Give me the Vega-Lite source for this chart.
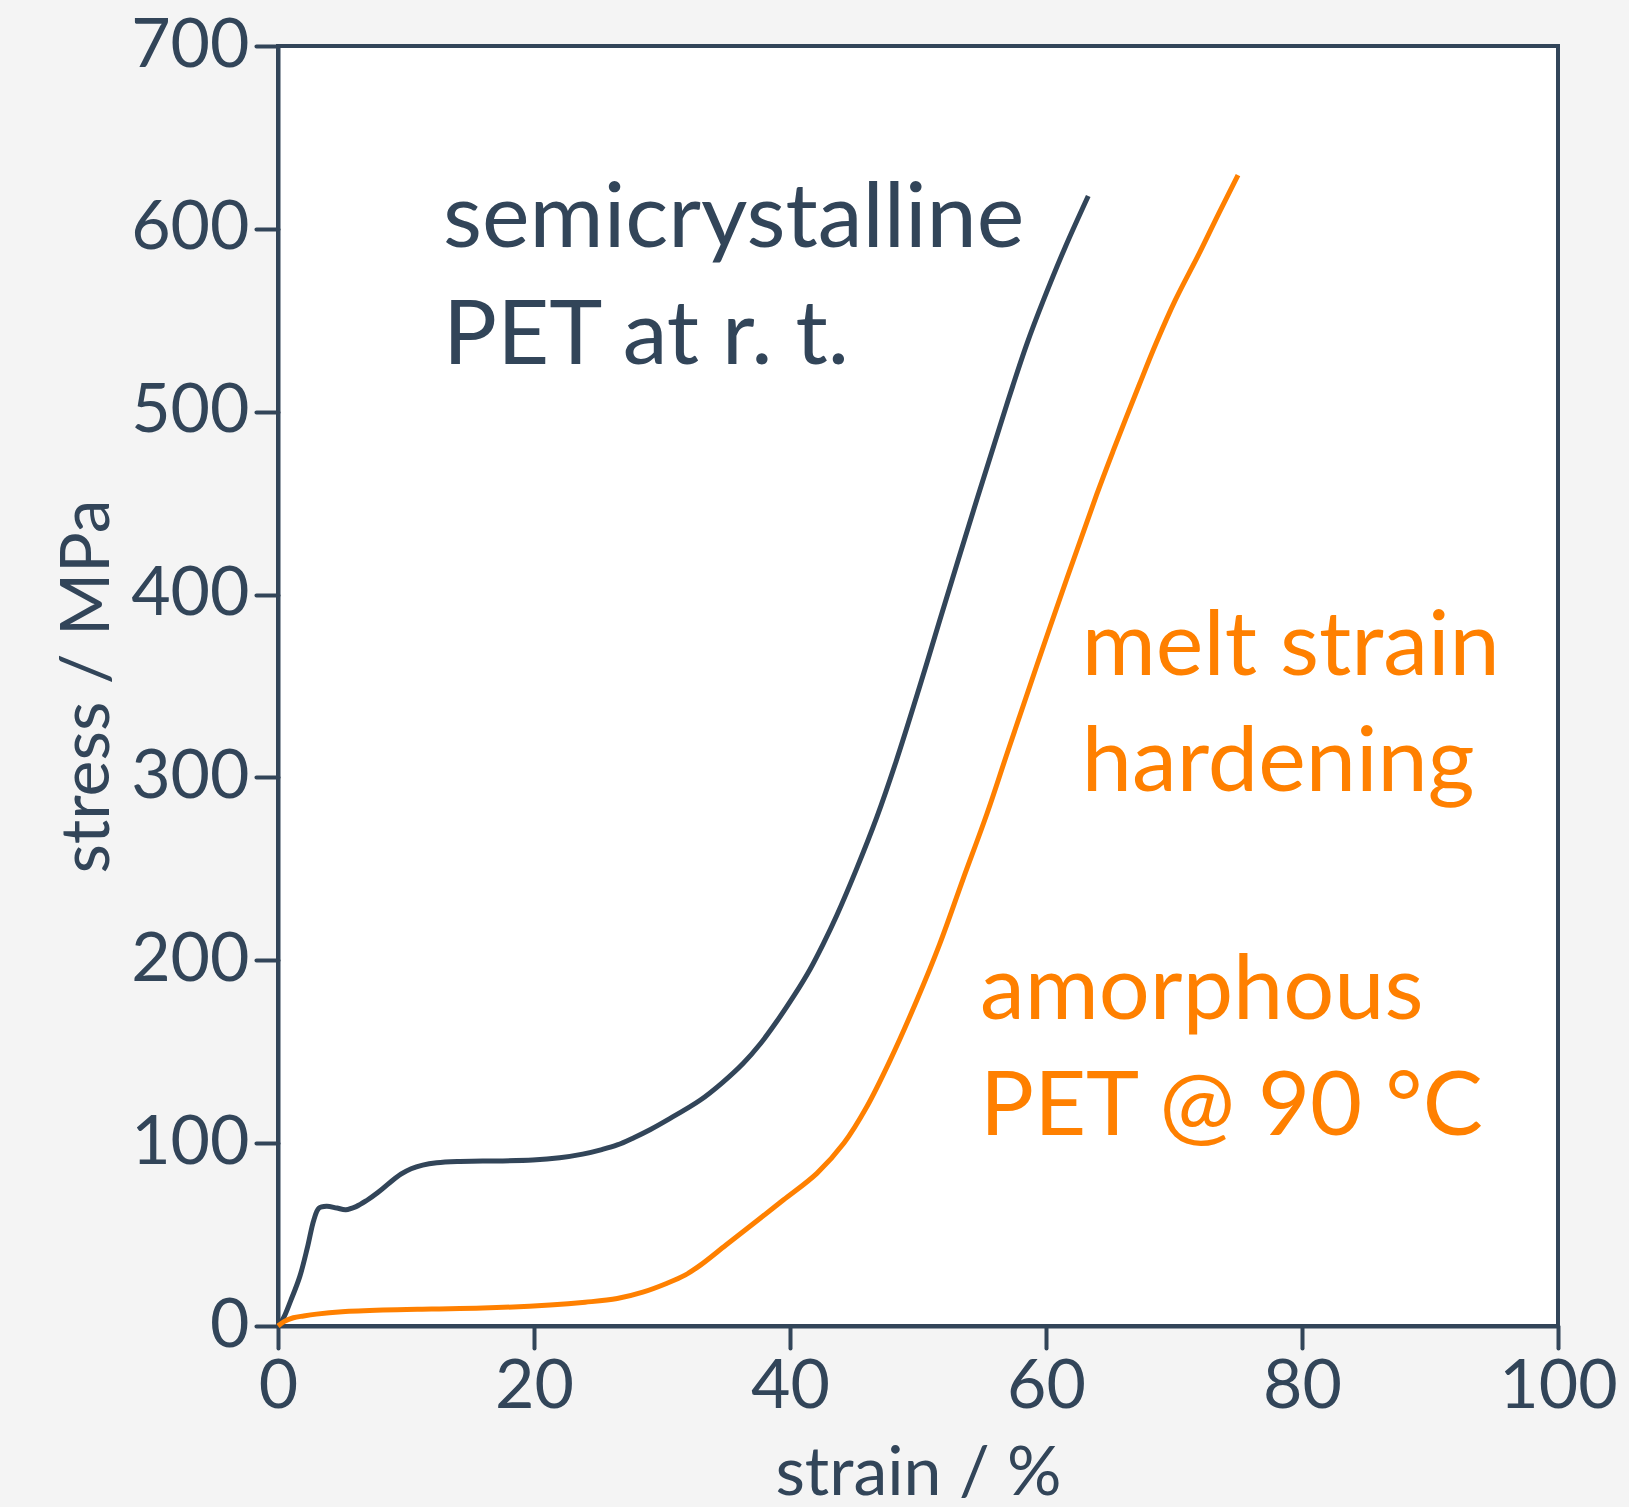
{
  "$schema": "https://vega.github.io/schema/vega-lite/v6.json",
  "autosize": {"type": "none"},
  "padding": {"left": 278, "top": 46, "right": 71, "bottom": 181},
  "width": 1280,
  "height": 1280,
  "background": "#f4f4f4",
  "config": {
    "view": {"fill": "white", "stroke": "#324559", "strokeWidth": 4},
    "axis": {
      "domainColor": "#324559", "domainWidth": 4,
      "tickColor": "#324559", "tickWidth": 4, "tickSize": 22, "tickCap": "round",
      "labelColor": "#324559", "titleColor": "#324559",
      "labelFont": "Lato", "titleFont": "Lato",
      "labelFontSize": 68, "titleFontSize": 68, "titleFontWeight": "normal",
      "labelFlush": false, "labelOverlap": false,
      "grid": false
    }
  },
  "datasets": {
    "curves": [
      {"strain": 0, "stress": 0, "series": "semicrystalline"},
      {"strain": 0.4, "stress": 4, "series": "semicrystalline"},
      {"strain": 1.0, "stress": 14, "series": "semicrystalline"},
      {"strain": 1.7, "stress": 27, "series": "semicrystalline"},
      {"strain": 2.3, "stress": 43, "series": "semicrystalline"},
      {"strain": 2.8, "stress": 58, "series": "semicrystalline"},
      {"strain": 3.2, "stress": 64.5, "series": "semicrystalline"},
      {"strain": 3.8, "stress": 65.5, "series": "semicrystalline"},
      {"strain": 4.6, "stress": 64.5, "series": "semicrystalline"},
      {"strain": 5.3, "stress": 63.6, "series": "semicrystalline"},
      {"strain": 6.1, "stress": 65.3, "series": "semicrystalline"},
      {"strain": 6.9, "stress": 68.5, "series": "semicrystalline"},
      {"strain": 7.8, "stress": 73, "series": "semicrystalline"},
      {"strain": 8.75, "stress": 78.5, "series": "semicrystalline"},
      {"strain": 9.6, "stress": 83, "series": "semicrystalline"},
      {"strain": 10.4, "stress": 86, "series": "semicrystalline"},
      {"strain": 11.3, "stress": 88, "series": "semicrystalline"},
      {"strain": 12.4, "stress": 89.3, "series": "semicrystalline"},
      {"strain": 14, "stress": 90, "series": "semicrystalline"},
      {"strain": 16, "stress": 90.2, "series": "semicrystalline"},
      {"strain": 19.9, "stress": 90.8, "series": "semicrystalline"},
      {"strain": 22, "stress": 92, "series": "semicrystalline"},
      {"strain": 23.8, "stress": 94, "series": "semicrystalline"},
      {"strain": 25.3, "stress": 96.5, "series": "semicrystalline"},
      {"strain": 26.5, "stress": 99, "series": "semicrystalline"},
      {"strain": 27.8, "stress": 103, "series": "semicrystalline"},
      {"strain": 29.1, "stress": 107.5, "series": "semicrystalline"},
      {"strain": 30.4, "stress": 112.6, "series": "semicrystalline"},
      {"strain": 33.0, "stress": 123.6, "series": "semicrystalline"},
      {"strain": 34.7, "stress": 133, "series": "semicrystalline"},
      {"strain": 36.35, "stress": 143.7, "series": "semicrystalline"},
      {"strain": 37.7, "stress": 154.5, "series": "semicrystalline"},
      {"strain": 38.96, "stress": 166.5, "series": "semicrystalline"},
      {"strain": 40.3, "stress": 180.5, "series": "semicrystalline"},
      {"strain": 41.56, "stress": 195, "series": "semicrystalline"},
      {"strain": 42.6, "stress": 209, "series": "semicrystalline"},
      {"strain": 43.65, "stress": 224.5, "series": "semicrystalline"},
      {"strain": 45.2, "stress": 250, "series": "semicrystalline"},
      {"strain": 46.77, "stress": 278, "series": "semicrystalline"},
      {"strain": 48.3, "stress": 309, "series": "semicrystalline"},
      {"strain": 50.1, "stress": 349, "series": "semicrystalline"},
      {"strain": 51.7, "stress": 386, "series": "semicrystalline"},
      {"strain": 54.6, "stress": 452, "series": "semicrystalline"},
      {"strain": 56.4, "stress": 492, "series": "semicrystalline"},
      {"strain": 57.4, "stress": 514, "series": "semicrystalline"},
      {"strain": 58.5, "stress": 537, "series": "semicrystalline"},
      {"strain": 59.8, "stress": 561, "series": "semicrystalline"},
      {"strain": 61.5, "stress": 590, "series": "semicrystalline"},
      {"strain": 63.3, "stress": 618, "series": "semicrystalline"},
      {"strain": 0, "stress": 0, "series": "amorphous"},
      {"strain": 0.5, "stress": 2.5, "series": "amorphous"},
      {"strain": 1.2, "stress": 4.5, "series": "amorphous"},
      {"strain": 2, "stress": 5.5, "series": "amorphous"},
      {"strain": 3, "stress": 6.5, "series": "amorphous"},
      {"strain": 5, "stress": 7.8, "series": "amorphous"},
      {"strain": 8.2, "stress": 8.75, "series": "amorphous"},
      {"strain": 12, "stress": 9.3, "series": "amorphous"},
      {"strain": 16, "stress": 9.8, "series": "amorphous"},
      {"strain": 21.25, "stress": 11.5, "series": "amorphous"},
      {"strain": 24, "stress": 13, "series": "amorphous"},
      {"strain": 26.5, "stress": 15, "series": "amorphous"},
      {"strain": 28.5, "stress": 18.5, "series": "amorphous"},
      {"strain": 30.4, "stress": 23.4, "series": "amorphous"},
      {"strain": 31.8, "stress": 27.8, "series": "amorphous"},
      {"strain": 33, "stress": 33.3, "series": "amorphous"},
      {"strain": 35, "stress": 44.3, "series": "amorphous"},
      {"strain": 37.5, "stress": 58, "series": "amorphous"},
      {"strain": 39.5, "stress": 69, "series": "amorphous"},
      {"strain": 42.1, "stress": 83.5, "series": "amorphous"},
      {"strain": 44.2, "stress": 99.9, "series": "amorphous"},
      {"strain": 46, "stress": 119.9, "series": "amorphous"},
      {"strain": 47.8, "stress": 145, "series": "amorphous"},
      {"strain": 49.9, "stress": 178, "series": "amorphous"},
      {"strain": 51.7, "stress": 209, "series": "amorphous"},
      {"strain": 53.5, "stress": 244, "series": "amorphous"},
      {"strain": 55.4, "stress": 280.4, "series": "amorphous"},
      {"strain": 57.05, "stress": 315, "series": "amorphous"},
      {"strain": 60.3, "stress": 382, "series": "amorphous"},
      {"strain": 63.95, "stress": 454.5, "series": "amorphous"},
      {"strain": 65.3, "stress": 479.5, "series": "amorphous"},
      {"strain": 67.3, "stress": 515, "series": "amorphous"},
      {"strain": 68.6, "stress": 537.4, "series": "amorphous"},
      {"strain": 70.1, "stress": 561, "series": "amorphous"},
      {"strain": 72.0, "stress": 587, "series": "amorphous"},
      {"strain": 73.5, "stress": 608.5, "series": "amorphous"},
      {"strain": 75.0, "stress": 629.4, "series": "amorphous"}
    ],
    "labels": [
      {"strain": 12.9, "stress": 590, "text": "semicrystalline", "series": "semicrystalline"},
      {"strain": 12.9, "stress": 526, "text": "PET at r. t.", "series": "semicrystalline"},
      {"strain": 62.8, "stress": 356, "text": "melt strain", "series": "amorphous"},
      {"strain": 62.8, "stress": 292.6, "text": "hardening", "series": "amorphous"},
      {"strain": 54.85, "stress": 168.1, "text": "amorphous", "series": "amorphous"},
      {"strain": 54.85, "stress": 104.5, "text": "PET @ 90 °C", "series": "amorphous"}
    ]
  },
  "layer": [
    {
      "data": {"name": "curves"},
      "mark": {"type": "line", "strokeWidth": 5, "interpolate": "catmull-rom"},
      "encoding": {
        "x": {"field": "strain", "type": "quantitative",
              "scale": {"domain": [0, 100], "nice": false, "zero": false},
              "axis": {"title": "strain / %", "values": [0, 20, 40, 60, 80, 100], "labelPadding": 5, "titlePadding": 19}},
        "y": {"field": "stress", "type": "quantitative",
              "scale": {"domain": [0, 700], "nice": false},
              "axis": {"title": "stress / MPa", "values": [0, 100, 200, 300, 400, 500, 600, 700], "labelPadding": 7, "titlePadding": 8}},
        "color": {"field": "series", "type": "nominal",
                  "scale": {"domain": ["semicrystalline", "amorphous"], "range": ["#324559", "#ff8000"]},
                  "legend": null},
        "detail": {"field": "series"}
      }
    },
    {
      "data": {"name": "labels"},
      "mark": {"type": "text", "font": "Lato", "fontSize": 90, "align": "left", "baseline": "alphabetic"},
      "encoding": {
        "x": {"field": "strain", "type": "quantitative"},
        "y": {"field": "stress", "type": "quantitative"},
        "text": {"field": "text"},
        "color": {"field": "series", "type": "nominal", "legend": null}
      }
    }
  ]
}
